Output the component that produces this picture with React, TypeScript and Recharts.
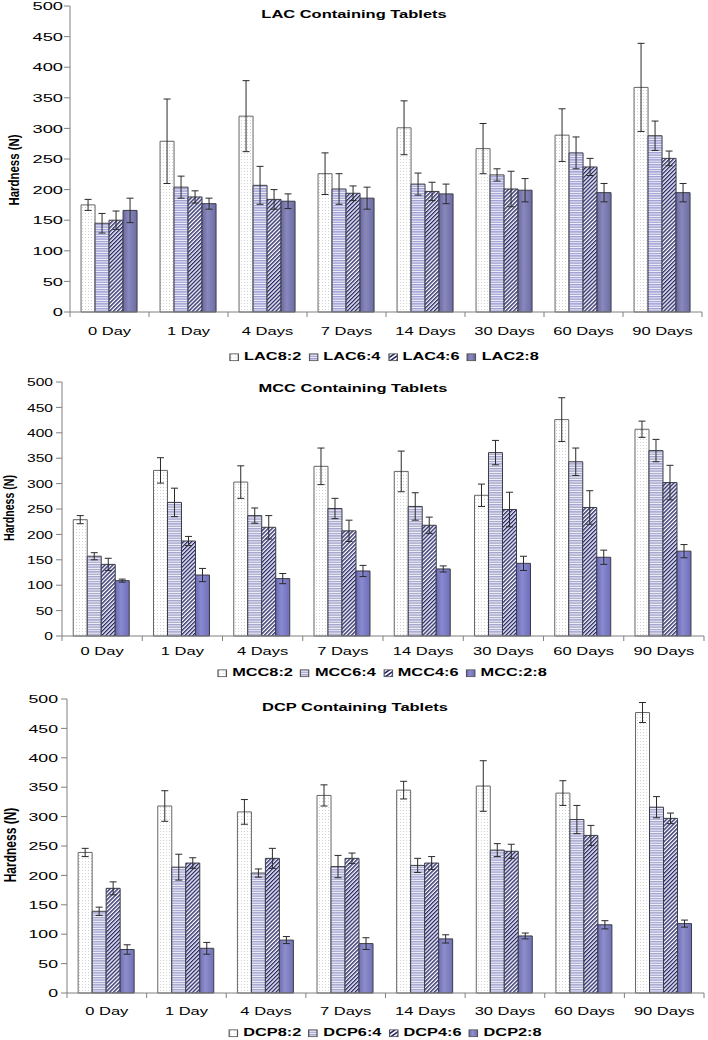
import { BarChart, Bar, XAxis, YAxis, ErrorBar } from 'recharts'

const days = ['0 Day', '1 Day', '4 Days', '7 Days', '14 Days', '30 Days', '60 Days', '90 Days']
const yTicks = [0, 50, 100, 150, 200, 250, 300, 350, 400, 450, 500]

// LAC
const lacNames = ['LAC8:2', 'LAC6:4', 'LAC4:6', 'LAC2:8']
const lac82 = [175, 279, 320, 226, 301, 267, 289, 367]
const lac82Err = [9, 69, 58, 34, 44, 41, 43, 72]
const lac64 = [145, 204, 207, 201, 209, 224, 260, 288]
const lac64Err = [16, 18, 31, 25, 18, 10, 26, 24]
const lac46 = [150, 188, 184, 194, 197, 201, 237, 251]
const lac46Err = [15, 10, 16, 12, 15, 29, 14, 12]
const lac28 = [166, 177, 181, 186, 193, 199, 195, 195]
const lac28Err = [20, 9, 12, 18, 16, 19, 15, 15]

// MCC
const mccNames = ['MCC8:2', 'MCC6:4', 'MCC4:6', 'MCC:2:8']
const mcc82 = [229, 326, 303, 334, 324, 277, 426, 407]
const mcc82Err = [8, 25, 32, 36, 40, 22, 43, 16]
const mcc64 = [157, 263, 237, 251, 255, 361, 343, 365]
const mcc64Err = [7, 28, 15, 20, 27, 24, 27, 22]
const mcc46 = [141, 187, 214, 207, 218, 249, 253, 302]
const mcc46Err = [12, 9, 23, 21, 16, 34, 33, 34]
const mcc28 = [109, 120, 113, 128, 132, 143, 155, 167]
const mcc28Err = [3, 13, 10, 11, 6, 14, 14, 13]

// DCP
const dcpNames = ['DCP8:2', 'DCP6:4', 'DCP4:6', 'DCP2:8']
const dcp82 = [239, 318, 308, 336, 345, 352, 340, 477]
const dcp82Err = [7, 26, 21, 18, 15, 43, 21, 17]
const dcp64 = [139, 214, 204, 215, 217, 243, 295, 316]
const dcp64Err = [7, 22, 7, 19, 12, 11, 24, 18]
const dcp46 = [178, 221, 229, 229, 221, 241, 268, 297]
const dcp46Err = [11, 9, 17, 9, 11, 12, 17, 9]
const dcp28 = [74, 76, 90, 84, 92, 97, 116, 118]
const dcp28Err = [8, 10, 6, 10, 7, 5, 7, 6]

type Row = Record<string, string | number>

function buildRows(values: number[][], errs: number[][]): Row[] {
  return days.map((day, i) => {
    const row: Row = { day }
    values.forEach((v, s) => {
      row[`s${s}`] = v[i]
      row[`e${s}`] = errs[s][i]
    })
    return row
  })
}

const FONT = '"Liberation Sans", Arial, sans-serif'
const AXIS = '#808080'
const SX = 1.42 // the source picture is stretched sideways

const panels = [
  {
    id: 'lac',
    title: 'LAC Containing Tablets',
    names: lacNames,
    rows: buildRows([lac82, lac64, lac46, lac28], [lac82Err, lac64Err, lac46Err, lac28Err]),
    box: { left: 70, right: 702, top: 6, bottom: 312, labelDy: 23, yTickSx: 1.55, yTickMargin: 1 },
    titleAt: [354, 14],
    yLabelAt: [15, 170, 11.4],
    legendAt: [384, 357],
    lines: '#9e9ed4',
    solid: ['#6a6aa2', '#8888bc', '#6c6ca4'],
  },
  {
    id: 'mcc',
    title: 'MCC Containing Tablets',
    names: mccNames,
    rows: buildRows([mcc82, mcc64, mcc46, mcc28], [mcc82Err, mcc64Err, mcc46Err, mcc28Err]),
    box: { left: 62, right: 704, top: 382, bottom: 636, labelDy: 19, yTickSx: 1.32, yTickMargin: 3 },
    titleAt: [353, 388],
    yLabelAt: [9, 508, 10.6],
    legendAt: [382, 673],
    lines: '#a4a4cc',
    solid: ['#6a6ab8', '#8a8ad0', '#6e6eba'],
  },
  {
    id: 'dcp',
    title: 'DCP Containing Tablets',
    names: dcpNames,
    rows: buildRows([dcp82, dcp64, dcp46, dcp28], [dcp82Err, dcp64Err, dcp46Err, dcp28Err]),
    box: { left: 67, right: 704, top: 699, bottom: 993, labelDy: 22, yTickSx: 1.5, yTickMargin: 3 },
    titleAt: [355, 707],
    yLabelAt: [11, 845, 12],
    legendAt: [385, 1033],
    lines: '#a4a4d0',
    solid: ['#6e6eb4', '#8e8ecc', '#7070b6'],
  },
]

type PanelCfg = (typeof panels)[number]

function Panel({ cfg }: { cfg: PanelCfg }) {
  const { id, box } = cfg
  const chartTop = box.top - 10
  const xAxisH = 40
  const height = box.bottom - chartTop + xAxisH
  const halfBand = (box.right - box.left) / days.length / 2
  const fills = [`url(#${id}-dots)`, `url(#${id}-lines)`, `url(#${id}-hatch)`, `url(#${id}-solid)`]

  const xTick = (p: any) => {
    const { x, y, payload, index } = p
    return (
      <g>
        <line x1={x - halfBand} x2={x - halfBand} y1={y} y2={y + 5} stroke={AXIS} />
        {index === days.length - 1 && (
          <line x1={x + halfBand} x2={x + halfBand} y1={y} y2={y + 5} stroke={AXIS} />
        )}
        <text
          transform={`translate(${x},${y + box.labelDy}) scale(1.4,1)`}
          textAnchor="middle"
          fontSize={11.8}
          fontFamily={FONT}
          fill="#000"
        >
          {payload.value}
        </text>
      </g>
    )
  }

  const yTick = (p: any) => {
    const { x, y, payload } = p
    return (
      <text
        transform={`translate(${x},${y}) scale(${box.yTickSx},1)`}
        textAnchor="end"
        dy="0.36em"
        fontSize={11.8}
        fontFamily={FONT}
        fill="#000"
      >
        {payload.value}
      </text>
    )
  }

  return (
    <>
      <div style={{ position: 'absolute', left: 0, top: chartTop }}>
        <BarChart
          width={708}
          height={height}
          data={cfg.rows}
          margin={{ top: 10, right: 708 - box.right, left: 0, bottom: 0 }}
          barCategoryGap="14%"
          barGap={0}
        >
          <defs>
            <pattern id={`${id}-dots`} width={3} height={3} patternUnits="userSpaceOnUse">
              <rect width={3} height={3} fill="#fff" />
              <rect x={1} y={1} width={1} height={1} fill="#d2d2d2" />
            </pattern>
            <pattern id={`${id}-lines`} width={4} height={2.4} patternUnits="userSpaceOnUse">
              <rect width={4} height={2.4} fill="#f6f6fc" />
              <rect width={4} height={1.4} fill={cfg.lines} />
            </pattern>
            <pattern
              id={`${id}-hatch`}
              width={2.8}
              height={2.8}
              patternUnits="userSpaceOnUse"
              patternTransform="rotate(45)"
            >
              <rect width={2.8} height={2.8} fill="#fff" />
              <rect width={1.4} height={2.8} fill="#28286c" />
            </pattern>
            <linearGradient id={`${id}-solid`} x1="0" y1="0" x2="1" y2="0">
              <stop offset="0%" stopColor={cfg.solid[0]} />
              <stop offset="40%" stopColor={cfg.solid[1]} />
              <stop offset="100%" stopColor={cfg.solid[2]} />
            </linearGradient>
          </defs>
          <XAxis
            dataKey="day"
            interval={0}
            height={xAxisH}
            tickLine={false}
            tickSize={0}
            tickMargin={0}
            axisLine={{ stroke: AXIS }}
            tick={xTick}
          />
          <YAxis
            width={box.left}
            domain={[0, 500]}
            ticks={yTicks}
            interval={0}
            tickSize={6}
            tickMargin={box.yTickMargin}
            tickLine={{ stroke: AXIS }}
            axisLine={{ stroke: AXIS }}
            tick={yTick}
          />
          {cfg.names.map((n, s) => (
            <Bar
              key={n}
              dataKey={`s${s}`}
              name={n}
              fill={fills[s]}
              stroke={s === 0 ? '#666' : '#3c3c48'}
              strokeWidth={1}
              isAnimationActive={false}
            >
              <ErrorBar
                dataKey={`e${s}`}
                width={3.5}
                stroke="#2a2a2a"
                strokeWidth={1}
                isAnimationActive={false}
              />
            </Bar>
          ))}
        </BarChart>
      </div>

      {/* title */}
      <div
        style={{
          position: 'absolute',
          left: cfg.titleAt[0],
          top: cfg.titleAt[1],
          transform: `translate(-50%, -50%) scaleX(${SX})`,
          font: `bold 11.6px ${FONT}`,
          lineHeight: 1,
          whiteSpace: 'nowrap',
          color: '#000',
        }}
      >
        {cfg.title}
      </div>

      {/* y label */}
      <div
        style={{
          position: 'absolute',
          left: cfg.yLabelAt[0],
          top: cfg.yLabelAt[1],
          transform: `translate(-50%, -50%) scaleX(1.3) rotate(-90deg)`,
          font: `bold ${cfg.yLabelAt[2]}px ${FONT}`,
          lineHeight: 1,
          whiteSpace: 'nowrap',
          color: '#000',
        }}
      >
        Hardness (N)
      </div>

      {/* legend */}
      <div
        style={{
          position: 'absolute',
          left: cfg.legendAt[0],
          top: cfg.legendAt[1],
          transform: `translate(-50%, -50%) scaleX(${SX})`,
          display: 'flex',
          alignItems: 'center',
          font: `bold 11.5px ${FONT}`,
          lineHeight: 1,
          whiteSpace: 'nowrap',
          color: '#000',
        }}
      >
        {cfg.names.map((n, s) => (
          <span key={n} style={{ display: 'flex', alignItems: 'center', marginRight: s < 3 ? 5 : 0 }}>
            <svg width={7} height={8} style={{ display: 'block' }}>
              <rect x={0.5} y={0.5} width={6} height={7} fill={fills[s]} stroke="#555" />
            </svg>
            <span style={{ marginLeft: 3.5 }}>{n}</span>
          </span>
        ))}
      </div>
    </>
  )
}

export default function App() {
  return (
    <div
      style={{
        position: 'absolute',
        left: 0,
        top: 0,
        width: 708,
        height: 1040,
        background: '#fff',
        overflow: 'hidden',
      }}
    >
      {panels.map((p) => (
        <Panel key={p.id} cfg={p} />
      ))}
    </div>
  )
}
